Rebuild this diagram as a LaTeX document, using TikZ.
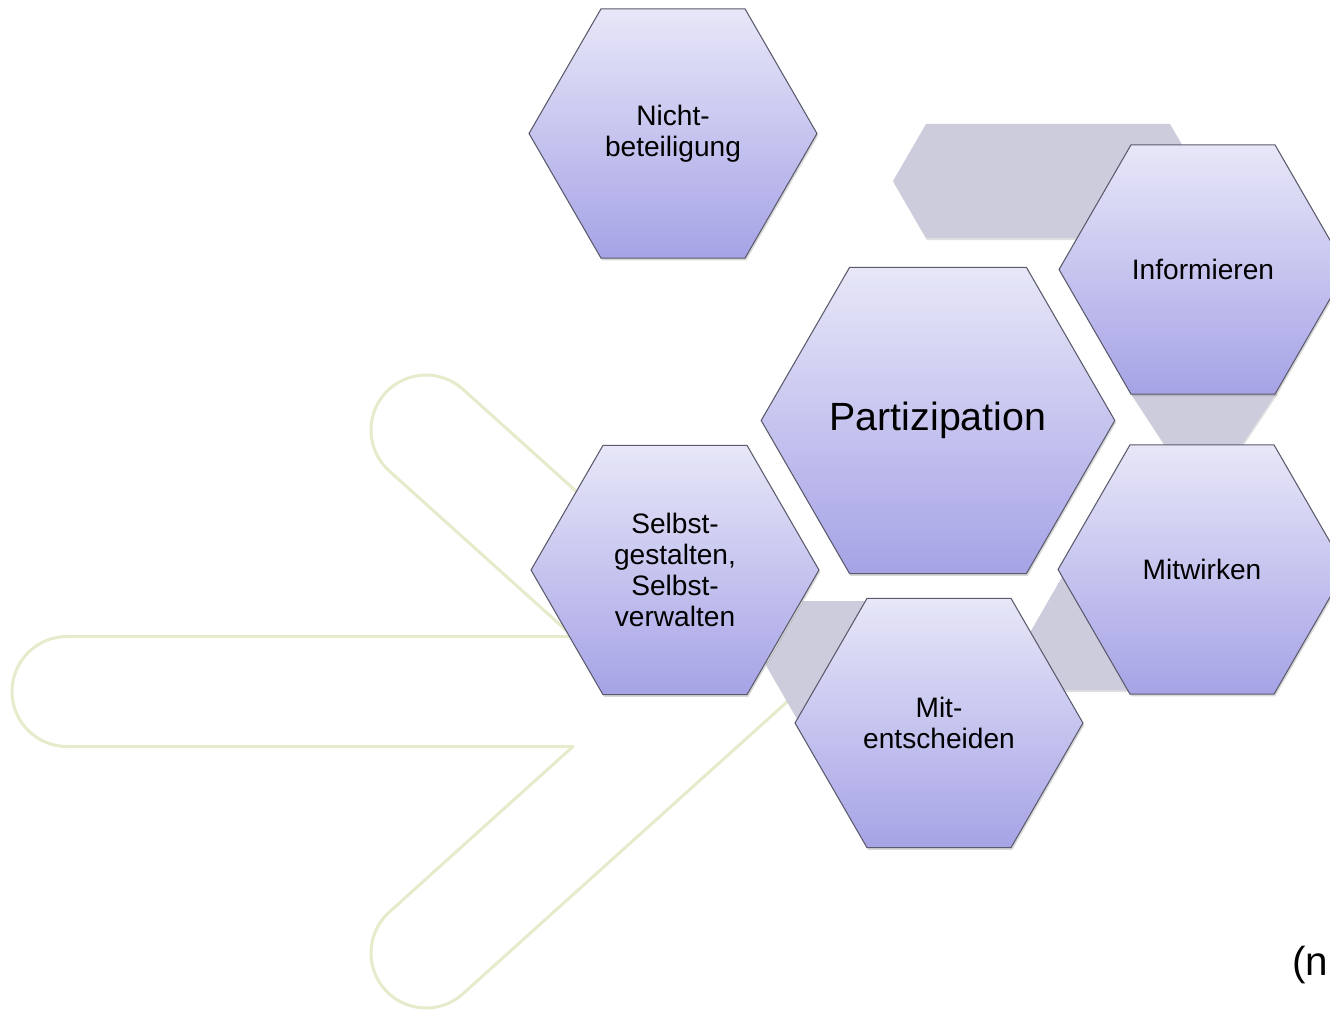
\documentclass[tikz,border=0pt]{standalone}
\usepackage{fontspec}
\newfontfamily\arialfont{Liberation Sans}
\usetikzlibrary{shapes.geometric,shadows}
\definecolor{hextop}{RGB}{231,231,248}
\definecolor{hexbot}{RGB}{166,163,230}
\definecolor{hexline}{RGB}{90,90,108}
\definecolor{linkgray}{RGB}{205,204,220}
\definecolor{arrowline}{RGB}{230,235,203}
\begin{document}
\begin{tikzpicture}[x=0.02cm,y=-0.02cm,
  hexsmall/.style={regular polygon, regular polygon sides=6, minimum size=5.76cm,
    inner sep=0pt, draw=hexline, line width=0.6pt, top color=hextop, bottom color=hexbot,
    font=\arialfont\fontsize{16}{17.5}\selectfont, align=center, text=black,
    drop shadow={shadow xshift=0.7pt, shadow yshift=-1.3pt, opacity=0.3}},
  hexbig/.style={hexsmall, minimum size=7cm, font=\arialfont\fontsize{22.4}{26}\selectfont},
  link/.style={fill=linkgray, draw=none,
    drop shadow={shadow xshift=0.5pt, shadow yshift=-1.2pt, opacity=0.25}},
  arrowout/.style={draw=arrowline, line width=1.7pt, line join=round}
]
\fill[white] (0,0) rectangle (1330,1010);
\useasboundingbox (0,0) rectangle (1330,1010);

% pale arrow outline in the background
\draw[arrowout] (67,636.5) -- (573,636.5) -- (389.2,470.9)
  arc[start angle=132, end angle=312, radius=55] -- (798.6,691.5) -- (462.8,993.9)
  arc[start angle=48, end angle=228, radius=55] -- (573,746.5) -- (67,746.5)
  arc[start angle=90, end angle=270, radius=55] -- cycle;

% grey links behind the hexagons
\fill[link] (893,181) -- (926,124) -- (1170,124) -- (1203,181) -- (1170,238) -- (926,238) -- cycle;
\fill[link] (1130,392) -- (1277,392) -- (1225,470) -- (1181,470) -- cycle;
\fill[link] (1066,570) -- (1020,650) -- (1040,690) -- (1150,690) -- (1150,570) -- cycle;
\fill[link] (766,665) -- (803,601) -- (900,601) -- (900,729) -- (803,729) -- cycle;

% hexagons
\node[hexsmall] (nicht) at (673,133.5) {Nicht-\\beteiligung};
\node[hexsmall] (info) at (1203,269.5) {Informieren};
\node[hexbig] (part) at (938,420.5) {Partizipation};
\node[hexsmall] (mitw) at (1202,569.5) {Mitwirken};
\node[hexsmall] (selbst) at (675,570) {Selbst-\\gestalten,\\Selbst-\\verwalten};
\node[hexsmall] (mitent) at (939,723) {Mit-\\entscheiden};

\node[anchor=base west, inner sep=0pt, font=\arialfont\fontsize{23}{27}\selectfont] (note) at (1292,975) {(n};
\end{tikzpicture}
\end{document}
